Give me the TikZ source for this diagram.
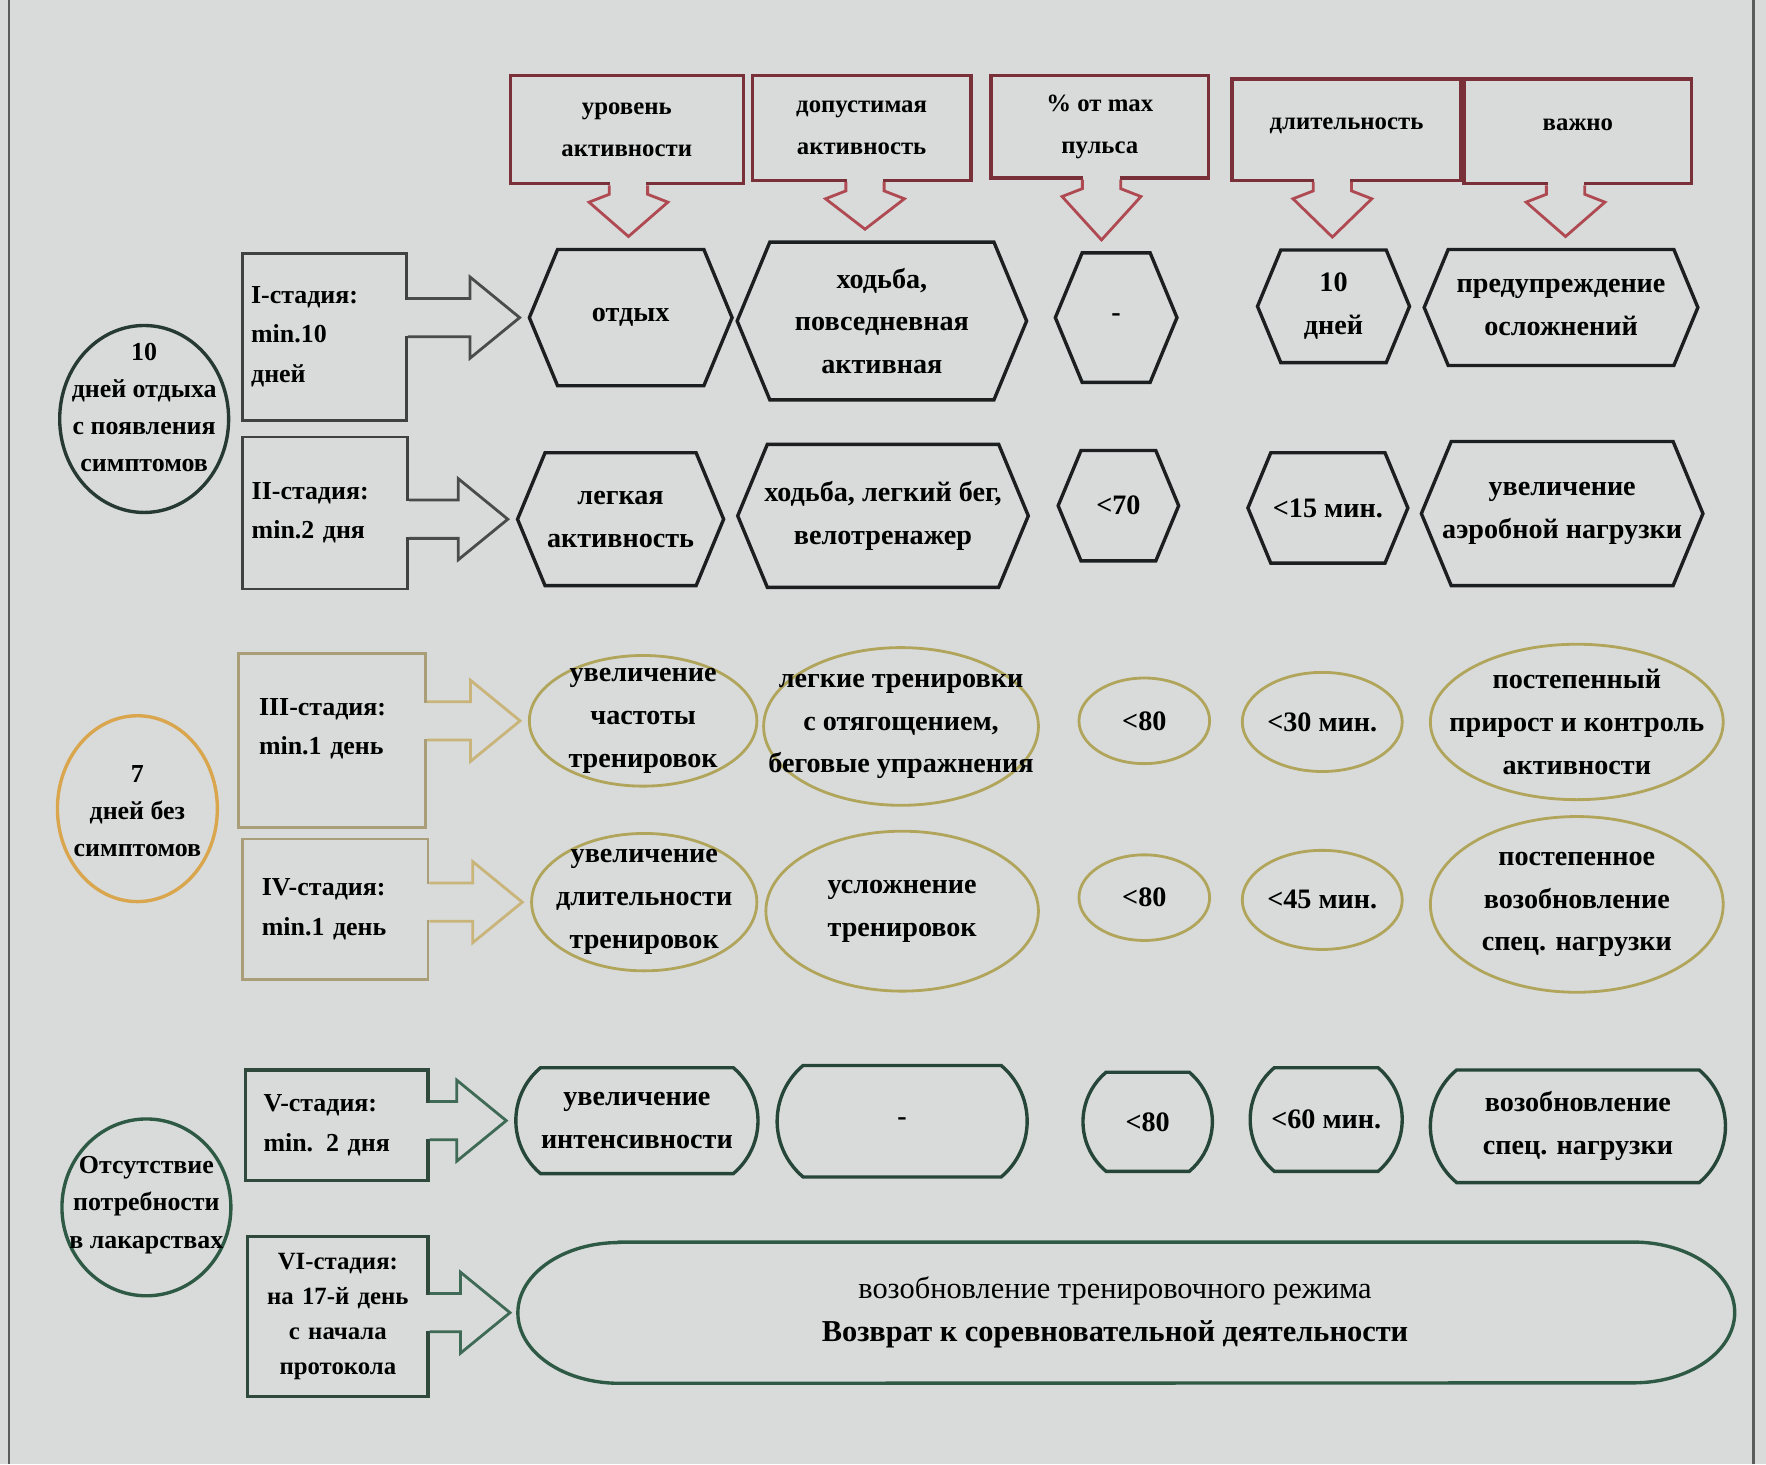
\documentclass[tikz,border=0pt]{standalone}
\usepackage{fontspec}
\setmainfont{Liberation Serif}
\usetikzlibrary{shapes.symbols,shapes.misc,shapes.geometric,calc}
\definecolor{bg}{HTML}{D8DBDA}
\definecolor{hdr}{HTML}{7A3038}
\definecolor{hdrarrowc}{HTML}{B04A52}
\definecolor{ink}{HTML}{1C1F1F}
\definecolor{boxgrey}{HTML}{404242}
\definecolor{arrgrey}{HTML}{4A4C4C}
\definecolor{grpone}{HTML}{263A33}
\definecolor{goldc}{HTML}{D9A64E}
\definecolor{boxolive}{HTML}{A99E78}
\definecolor{arrolive}{HTML}{C9B47A}
\definecolor{ovalc}{HTML}{B1A55C}
\definecolor{grpthree}{HTML}{2E5A45}
\definecolor{boxgreen}{HTML}{2F4A3C}
\definecolor{arrgreen}{HTML}{3F6A55}
\definecolor{pillc}{HTML}{26463A}
\definecolor{framec}{HTML}{5A5C5C}
\tikzset{
  base/.style={font=\fontsize{25}{38}\selectfont\bfseries, align=center, inner sep=0pt, text=black},
  lbl/.style={base},
  hdrbox/.style={rectangle, draw=hdr, line width=3pt, inner sep=0pt, align=center,
     font=\fontsize{22}{37}\selectfont\bfseries},
  hdrarr/.style={draw=hdrarrowc, line width=2.5pt, line join=miter},
  hexa/.style={signal, signal to=west and east, signal pointer angle=135, draw=ink, line width=3pt, inner sep=0pt},
  ovalY/.style={ellipse, draw=ovalc, line width=2.5pt, inner sep=0pt},
  pillG/.style={rounded rectangle, rounded rectangle arc length=100, draw=pillc, line width=3pt, inner sep=0pt},
  stagebox/.style={rectangle, line width=2.5pt, inner sep=0pt, align=left, text width=130pt,
     font=\fontsize{23}{35}\selectfont\bfseries},
  grpcirc/.style={ellipse, line width=3pt, inner sep=0pt},
  circtext/.style={align=center, inner sep=0pt, font=\fontsize{23}{33}\selectfont\bfseries},
  blockarrow/.style={line width=2.5pt, line join=miter},
}
% shape node with separate text node
\newcommand\shp[6]{%
  \node[#1, minimum width=#4pt, minimum height=#5pt] (#2) at (#3) {};
  \node[lbl] (#2t) at (#2) {#6};}
% callout arrow under a header box
\newcommand\hdrarrow[3]{%
  \coordinate (#1x) at (#3,0);
  \coordinate (#1b) at (#1.south -| #1x);
  \coordinate (#1tip) at ($(#2.north -| #1x)+(0,-10)$);
  \fill[bg] ($(#1b)+(-16,-3)$) rectangle ($(#1b)+(16,3)$);
  \draw[hdrarr] ($(#1b)+(-17,0)$) -- ($(#1b)+(-17,8)$) -- ($(#1b)+(-35,15)$) -- (#1tip)
     -- ($(#1b)+(35,15)$) -- ($(#1b)+(17,8)$) -- ($(#1b)+(17,0)$);}
% block arrow from a stage box to the first shape of its row
\newcommand\stagearrow[3]{%
  \coordinate (#2tip) at ($(#2.west)+(-7,0)$);
  \coordinate (#2base) at (#1.east |- #2tip);
  \fill[bg] ($(#2base)+(-3,-16)$) rectangle ($(#2base)+(3,16)$);
  \draw[blockarrow, draw=#3] ($(#2base)+(0,-17)$) -- ($(#2tip)+(-44,-17)$) -- ($(#2tip)+(-44,-36)$)
     -- (#2tip) -- ($(#2tip)+(-44,36)$) -- ($(#2tip)+(-44,17)$) -- ($(#2base)+(0,17)$);}
\begin{document}
\begin{tikzpicture}[x=1pt,y=-1pt]
\fill[bg] (0,0) rectangle (1568,1300);
\useasboundingbox (0,0) rectangle (1568,1300);
\draw[framec, line width=2.5pt] (8,0) -- (8,1300);
\draw[framec, line width=3pt] (1557,0) -- (1557,1300);

% header boxes
\node[hdrbox, minimum width=207pt, minimum height=96pt] (h1) at (556.5,115) {уровень\\активности};
\node[hdrbox, minimum width=194pt, minimum height=93pt] (h2) at (765,113.5) {допустимая\\активность};
\node[hdrbox, minimum width=193pt, minimum height=91pt] (h3) at (976.5,112.5) {\% от max\\пульса};
\node[hdrbox, minimum width=203pt, minimum height=90pt] (h4) at (1195.5,115) {длительность\\[-26pt]};
\node[hdrbox, minimum width=202pt, minimum height=93pt] (h5) at (1401,116.5) {важно\\[-26pt]};

% row I (hexagons)
\shp{hexa}{r1a}{560,282}{180}{121}{отдых}
\shp{hexa}{r1b}{783,285}{257}{140}{ходьба,\\повседневная\\активная}
\shp{hexa}{r1c}{991,282}{108}{115}{-}
\shp{hexa}{r1d}{1184,272}{135}{100}{10\\дней}
\shp{hexa}{r1e}{1386,273}{243}{103}{предупреждение\\осложнений}
% row II
\shp{hexa}{r2a}{551,461}{183}{118}{легкая\\активность}
\shp{hexa}{r2b}{784,458}{258}{127}{ходьба, легкий бег,\\велотренажер}
\shp{hexa}{r2c}{993,449}{107}{98}{<70}
\shp{hexa}{r2d}{1179,451}{142}{98}{<15 мин.}
\shp{hexa}{r2e}{1387,456}{250}{128}{увеличение\\аэробной нагрузки}
% row III (ellipses)
\shp{ovalY}{r3a}{571,640}{202}{116}{увеличение\\частоты\\тренировок}
\shp{ovalY}{r3b}{800,645}{244}{140}{легкие тренировки\\с отягощением,\\беговые упражнения}
\shp{ovalY}{r3c}{1016,640}{116}{76}{<80}
\shp{ovalY}{r3d}{1174,641}{142}{88}{<30 мин.}
\shp{ovalY}{r3e}{1400,641}{260}{138}{постепенный\\прирост и контроль\\активности}
% row IV
\shp{ovalY}{r4a}{572,801}{200}{122}{увеличение\\длительности\\тренировок}
\shp{ovalY}{r4b}{801,809}{242}{142}{усложнение\\тренировок}
\shp{ovalY}{r4c}{1016,797}{116}{76}{<80}
\shp{ovalY}{r4d}{1174,799}{142}{88}{<45 мин.}
\shp{ovalY}{r4e}{1400,803}{260}{156}{постепенное\\возобновление\\спец. нагрузки}
% row V (pills)
\shp{pillG}{r5a}{565.5,995}{215}{94}{увеличение\\интенсивности}
\shp{pillG}{r5b}{801,995.5}{222}{99}{-}
\shp{pillG}{r5c}{1019,996}{108}{88}{<80}
\shp{pillG}{r5d}{1177.5,994}{135}{92}{<60 мин.}
\shp{pillG}{r5e}{1401,1000}{262}{100}{возобновление\\спец. нагрузки}
% row VI
\node[rectangle, draw=none, minimum width=1080pt, minimum height=125pt, inner sep=0pt, align=center,
  font=\fontsize{27}{38}\selectfont] (r6) at (1000,1165.5)
  {\mdseries возобновление тренировочного режима\hspace*{20pt}\\\bfseries Возврат к соревновательной деятельности\hspace*{20pt}};
\draw[draw=grpthree, line width=3pt] ($(r6.north west)+(90,0)$) -- ($(r6.north east)+(-90,0)$)
  arc[start angle=-90, end angle=90, x radius=90, y radius=62.5]
  -- ($(r6.south west)+(90,0)$)
  arc[start angle=90, end angle=270, x radius=90, y radius=62.5] -- cycle;

% header callout arrows
\hdrarrow{h1}{r1a}{558}
\hdrarrow{h2}{r1b}{768}
\hdrarrow{h3}{r1c}{978}
\hdrarrow{h4}{r1d}{1183}
\hdrarrow{h5}{r1e}{1390}

% group circles
\node[grpcirc, draw=grpone, minimum width=150pt, minimum height=166pt] (g1) at (128,372) {};
\node[circtext] (g1t) at (128,362) {10\\дней отдыха\\с появления\\симптомов};
\node[grpcirc, draw=goldc, minimum width=142pt, minimum height=165pt] (g2) at (122,718) {};
\node[circtext] (g2t) at (122,720) {7\\дней без\\симптомов};
\node[grpcirc, draw=grpthree, minimum width=150pt, minimum height=157pt] (g3) at (130,1072) {};
\node[circtext] (g3t) at (130,1070) {Отсутствие\\потребности\\в лакарствах};

% stage boxes
\node[stagebox, draw=boxgrey, minimum width=146pt, minimum height=148pt] (s1) at (288,299) {I-стадия:\\min.10\\дней};
\node[stagebox, draw=boxgrey, minimum width=147pt, minimum height=135pt] (s2) at (288.5,455.5) {II-стадия:\\min.2 дня};
\node[stagebox, draw=boxolive, minimum width=166pt, minimum height=155pt] (s3) at (295,657.5) {III-стадия:\\min.1 день\\[-10pt]\mbox{}};
\node[stagebox, draw=boxolive, minimum width=165pt, minimum height=125pt] (s4) at (297.5,807.5) {IV-стадия:\\min.1 день};
\node[stagebox, draw=boxgreen, line width=3pt, minimum width=162pt, minimum height=98pt] (s5) at (299,999) {V-стадия:\\min. 2 дня};
\node[stagebox, draw=boxgreen, line width=3pt, align=center, minimum width=160pt, minimum height=142pt,
  font=\fontsize{22}{31}\selectfont\bfseries] (s6) at (300,1169) {VI-стадия:\\на 17-й день\\с начала\\протокола};

% stage arrows
\stagearrow{s1}{r1a}{arrgrey}
\stagearrow{s2}{r2a}{arrgrey}
\stagearrow{s3}{r3a}{arrolive}
\stagearrow{s4}{r4a}{arrolive}
\stagearrow{s5}{r5a}{arrgreen}
\stagearrow{s6}{r6}{arrgreen}
\end{tikzpicture}
\end{document}
